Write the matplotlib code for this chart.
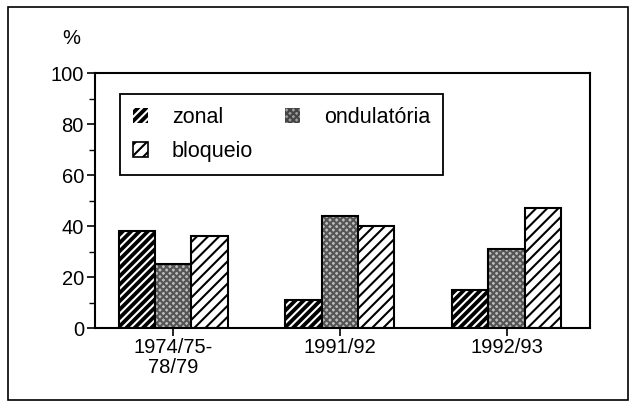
import matplotlib as mpl
import numpy as np
import matplotlib.pyplot as plt
from matplotlib.patches import Rectangle, Patch
from matplotlib.ticker import MultipleLocator

plt.rcParams['font.family'] = ['Liberation Sans', 'DejaVu Sans']
plt.rcParams['hatch.linewidth'] = 1.5

periods = ['1974/75-\n78/79', '1991/92', '1992/93']
zonal = [38, 11, 15]
ondulatoria = [25, 44, 31]
bloqueio = [36, 40, 47]

fs = 14.5

fig = plt.figure(figsize=(6.35, 4.08), dpi=100)
ax = fig.add_axes([0.1496, 0.196, 0.7795, 0.625])

# outer frame round the whole figure
fig.patches.append(Rectangle((0.013, 0.02), 0.976, 0.963, transform=fig.transFigure,
                             fill=False, edgecolor='black', linewidth=1.2))

x = np.arange(len(periods))
w = 0.218
# zonal: black with white stripes (two layers)
ax.bar(x - w, zonal, w, facecolor='black', edgecolor='white', hatch='////', linewidth=0)
ax.bar(x - w, zonal, w, fill=False, edgecolor='black', linewidth=1.5)
# ondulatoria: grey stipple
ax.bar(x, ondulatoria, w, facecolor='#bdbdbd', edgecolor='#555555', hatch='xxxxx', linewidth=0)
ax.bar(x, ondulatoria, w, fill=False, edgecolor='black', linewidth=1.5)
ax.bar(x + w, bloqueio, w, facecolor='white', edgecolor='black', hatch='///', linewidth=1.5)

ax.set_xlim(-0.47, 2.5)
ax.set_ylim(0, 100)
ax.yaxis.set_major_locator(MultipleLocator(20))
ax.yaxis.set_minor_locator(MultipleLocator(10))
ax.set_xticks(x)
ax.set_xticklabels(periods, fontsize=fs, linespacing=1.05)
ax.tick_params(axis='y', labelsize=fs, length=6, width=1.2, direction='out', pad=2)
ax.tick_params(axis='y', which='minor', length=4, width=1.0)
ax.tick_params(axis='x', length=6, width=1.2, direction='out', pad=1)
for s in ax.spines.values():
    s.set_linewidth(1.5)

ax.text(-0.047, 1.1, '%', transform=ax.transAxes, fontsize=fs, ha='center', va='bottom')

# legend handles
h_zonal = Patch(facecolor='black', edgecolor='white', hatch='////', linewidth=0)
h_ond = Patch(facecolor='#9a9a9a', edgecolor='#444444', hatch='xxxxx', linewidth=0)
h_blo = Patch(facecolor='white', edgecolor='black', hatch='///', linewidth=1.2)
leg = ax.legend([h_zonal, h_blo, h_ond], ['zonal', 'bloqueio', 'ondulatória'],
                loc='upper left', bbox_to_anchor=(0.0505, 0.918), borderaxespad=0, ncol=2,
                fontsize=15.5, fancybox=False, edgecolor='black', framealpha=1,
                handlelength=0.7, handleheight=0.7, handletextpad=1.1,
                columnspacing=1.5, borderpad=0.6, labelspacing=0.6)
leg.get_frame().set_linewidth(1.3)

fig.savefig('out.png', dpi=100)
